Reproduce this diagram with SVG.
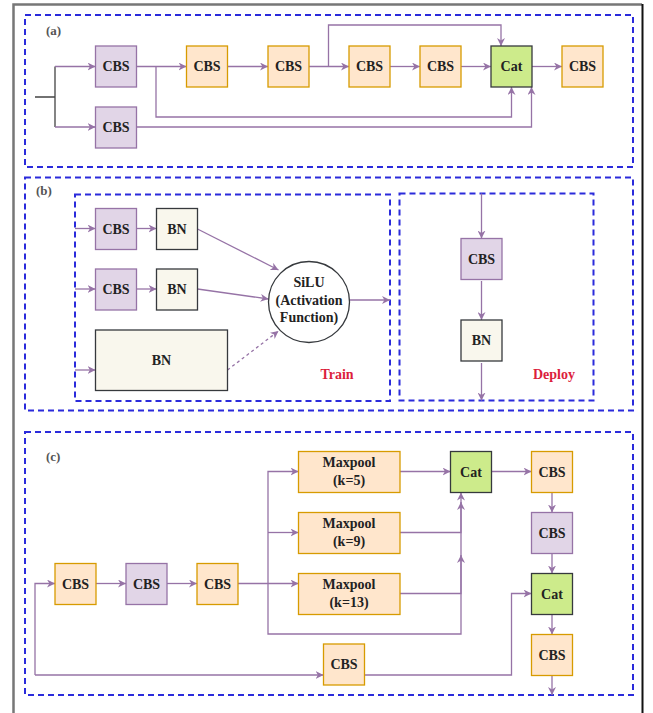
<svg xmlns="http://www.w3.org/2000/svg" width="653" height="713" viewBox="0 0 653 713">
<defs>
<marker id="ah" viewBox="0 0 10 10" refX="10" refY="5" markerWidth="8" markerHeight="8" markerUnits="userSpaceOnUse" orient="auto">
<path d="M0,0 L10,5 L0,10 L3,5 z" fill="#9673a6"/>
</marker>
<style>
.grp{fill:none;stroke:#2b2bdb;stroke-width:2;stroke-dasharray:6 4}
.pu{fill:#e1d5e7;stroke:#9673a6;stroke-width:1.3}
.or{fill:#ffe6cc;stroke:#d79b00;stroke-width:1.3}
.gr{fill:#cdeb8b;stroke:#36393d;stroke-width:1.3}
.bn{fill:#f9f7ed;stroke:#36393d;stroke-width:1.3}
.t{font-family:"Liberation Serif","Times New Roman",serif;font-weight:bold;font-size:14px;fill:#222;text-anchor:middle}
.lab{font-family:"Liberation Serif","Times New Roman",serif;font-weight:bold;font-size:13px;fill:#555}
.red{font-family:"Liberation Serif","Times New Roman",serif;font-weight:bold;font-size:14px;fill:#dc1e3c;text-anchor:middle}
.c{fill:none;stroke:#9673a6;stroke-width:1.3}
.a{marker-end:url(#ah)}
.dk{fill:none;stroke:#444;stroke-width:1.3}
</style>
</defs>
<rect width="653" height="713" fill="#fff"/>
<!-- frame -->
<path d="M13.5,713 V4.5 H642" fill="none" stroke="#777" stroke-width="2.5"/>
<path d="M642.5,4 V713" fill="none" stroke="#111" stroke-width="2"/>
<!-- groups -->
<g id="groups">
<rect class="grp" x="25" y="15" width="608" height="152"/>
<rect class="grp" x="25" y="177.5" width="608" height="233"/>
<rect class="grp" x="75" y="194.5" width="315" height="206.5"/>
<rect class="grp" x="399.5" y="193.5" width="194" height="207"/>
<rect class="grp" x="25" y="432" width="608" height="263"/>
<text class="lab" x="46" y="35">(a)</text>
<text class="lab" x="36" y="195">(b)</text>
<text class="lab" x="46" y="461">(c)</text>
<text class="red" x="337" y="379">Train</text>
<text class="red" x="554" y="379">Deploy</text>
</g>
<!-- connectors -->
<g id="connectors">
<path class="dk" d="M35,97 H55 M55,66.5 V127"/>
<path class="c a" d="M55,66.5 H95.5"/>
<path class="c a" d="M55,127 H95.5"/>
<path class="c a" d="M136.5,66.5 H186.5"/>
<path class="c a" d="M156,66.5 V117 H511.5 V87"/>
<path class="c a" d="M136.5,127 H531.5 V87"/>
<path class="c a" d="M227.5,66.5 H268"/>
<path class="c a" d="M309,66.5 H349"/>
<path class="c a" d="M328.5,66.5 V25 H501 V46"/>
<path class="c a" d="M390,66.5 H420"/>
<path class="c a" d="M461,66.5 H491"/>
<path class="c a" d="M532,66.5 H562"/>

<path class="c a" d="M75,228.5 H95.5"/>
<path class="c a" d="M136.5,228.5 H156.5"/>
<path class="c a" d="M75,289 H95.5"/>
<path class="c a" d="M136.5,289 H156.5"/>
<path class="c a" d="M75,370 H95.5"/>
<path class="c a" d="M197.5,229 L278.5,270"/>
<path class="c a" d="M197.5,289 L268.5,299"/>
<path class="c a" d="M227.5,370 L278.5,331" stroke-dasharray="3 3"/>
<path class="c a" d="M349.5,300 H390"/>
<path class="c a" d="M481.5,193.5 V238.5"/>
<path class="c a" d="M481.5,281 V320"/>
<path class="c a" d="M481.5,363 V400.5"/>

<path class="c a" d="M35,675 V583.5 H55"/>
<path class="c a" d="M35,675 H323.5"/>
<path class="c a" d="M96,583.5 H126"/>
<path class="c a" d="M167,583.5 H197"/>
<path class="c a" d="M238,583.5 H298.5"/>
<path class="c a" d="M268,583.5 V471.5 H298.5"/>
<path class="c a" d="M268,532.5 H298.5"/>
<path class="c a" d="M268,583.5 V634 H461 V492.5"/>
<path class="c a" d="M400,532.5 H461 V502"/>
<path class="c a" d="M400,593.5 H461 V555"/>
<path class="c a" d="M400,471.5 H450.5"/>
<path class="c a" d="M491.5,471.5 H531.5"/>
<path class="c a" d="M552,492.5 V512.5"/>
<path class="c a" d="M552,553.5 V573.5"/>
<path class="c a" d="M552,614.5 V634.5"/>
<path class="c a" d="M552,675.5 V695"/>
<path class="c a" d="M364.5,675 H511.5 V593.5 H531.5"/>
</g>
<!-- (a) nodes -->
<g id="a_cbs1"><rect class="pu" x="95.5" y="46" width="41" height="41"/><text class="t" x="116" y="71.3">CBS</text></g>
<g id="a_cbs2"><rect class="or" x="186.5" y="46" width="41" height="41"/><text class="t" x="207" y="71.3">CBS</text></g>
<g id="a_cbs3"><rect class="or" x="268" y="46" width="41" height="41"/><text class="t" x="288.5" y="71.3">CBS</text></g>
<g id="a_cbs4"><rect class="or" x="349" y="46" width="41" height="41"/><text class="t" x="369.5" y="71.3">CBS</text></g>
<g id="a_cbs5"><rect class="or" x="420" y="46" width="41" height="41"/><text class="t" x="440.5" y="71.3">CBS</text></g>
<g id="a_cat"><rect class="gr" x="491" y="46" width="41" height="41"/><text class="t" x="511.5" y="71.3">Cat</text></g>
<g id="a_cbs6"><rect class="or" x="562" y="46" width="41" height="41"/><text class="t" x="582.5" y="71.3">CBS</text></g>
<g id="a_cbs7"><rect class="pu" x="95.5" y="107" width="41" height="41"/><text class="t" x="116" y="132.3">CBS</text></g>
<!-- (b) nodes -->
<g id="b_cbs1"><rect class="pu" x="95.5" y="208.5" width="41" height="41"/><text class="t" x="116" y="233.8">CBS</text></g>
<g id="b_bn1"><rect class="bn" x="156.5" y="208.5" width="41" height="41"/><text class="t" x="177" y="233.8">BN</text></g>
<g id="b_cbs2"><rect class="pu" x="95.5" y="269" width="41" height="41"/><text class="t" x="116" y="294.3">CBS</text></g>
<g id="b_bn2"><rect class="bn" x="156.5" y="269" width="41" height="41"/><text class="t" x="177" y="294.3">BN</text></g>
<g id="b_bn3"><rect class="bn" x="95.5" y="330" width="132" height="60.5"/><text class="t" x="161.5" y="365">BN</text></g>
<g id="b_silu"><circle cx="309" cy="302" r="40.5" fill="#fff" stroke="#36393d" stroke-width="1.3"/>
<text class="t" x="309" y="287">SiLU</text><text class="t" x="309" y="304.5">(Activation</text><text class="t" x="309" y="321.5">Function)</text></g>
<g id="b_cbs3"><rect class="pu" x="461" y="238.5" width="41" height="41"/><text class="t" x="481.5" y="263.8">CBS</text></g>
<g id="b_bn4"><rect class="bn" x="461" y="320" width="41" height="41"/><text class="t" x="481.5" y="345.3">BN</text></g>
<!-- (c) nodes -->
<g id="c_cbs1"><rect class="or" x="55" y="563.5" width="41" height="41"/><text class="t" x="75.5" y="588.8">CBS</text></g>
<g id="c_cbs2"><rect class="pu" x="126" y="563.5" width="41" height="41"/><text class="t" x="146.5" y="588.8">CBS</text></g>
<g id="c_cbs3"><rect class="or" x="197" y="563.5" width="41" height="41"/><text class="t" x="217.5" y="588.8">CBS</text></g>
<g id="c_mp5"><rect class="or" x="298.5" y="451.5" width="101.5" height="41"/><text class="t" x="349" y="467">Maxpool</text><text class="t" x="349" y="485">(k=5)</text></g>
<g id="c_mp9"><rect class="or" x="298.5" y="512.5" width="101.5" height="41"/><text class="t" x="349" y="528">Maxpool</text><text class="t" x="349" y="546">(k=9)</text></g>
<g id="c_mp13"><rect class="or" x="298.5" y="573.5" width="101.5" height="41"/><text class="t" x="349" y="589">Maxpool</text><text class="t" x="349" y="607">(k=13)</text></g>
<g id="c_cbs4"><rect class="or" x="323.5" y="644" width="41" height="41"/><text class="t" x="344" y="669.3">CBS</text></g>
<g id="c_cat1"><rect class="gr" x="450.5" y="451.5" width="41" height="41"/><text class="t" x="471" y="476.8">Cat</text></g>
<g id="c_cbs5"><rect class="or" x="531.5" y="451.5" width="41" height="41"/><text class="t" x="552" y="476.8">CBS</text></g>
<g id="c_cbs6"><rect class="pu" x="531.5" y="512.5" width="41" height="41"/><text class="t" x="552" y="537.8">CBS</text></g>
<g id="c_cat2"><rect class="gr" x="531.5" y="573.5" width="41" height="41"/><text class="t" x="552" y="598.8">Cat</text></g>
<g id="c_cbs7"><rect class="or" x="531.5" y="634.5" width="41" height="41"/><text class="t" x="552" y="659.8">CBS</text></g>
</svg>
